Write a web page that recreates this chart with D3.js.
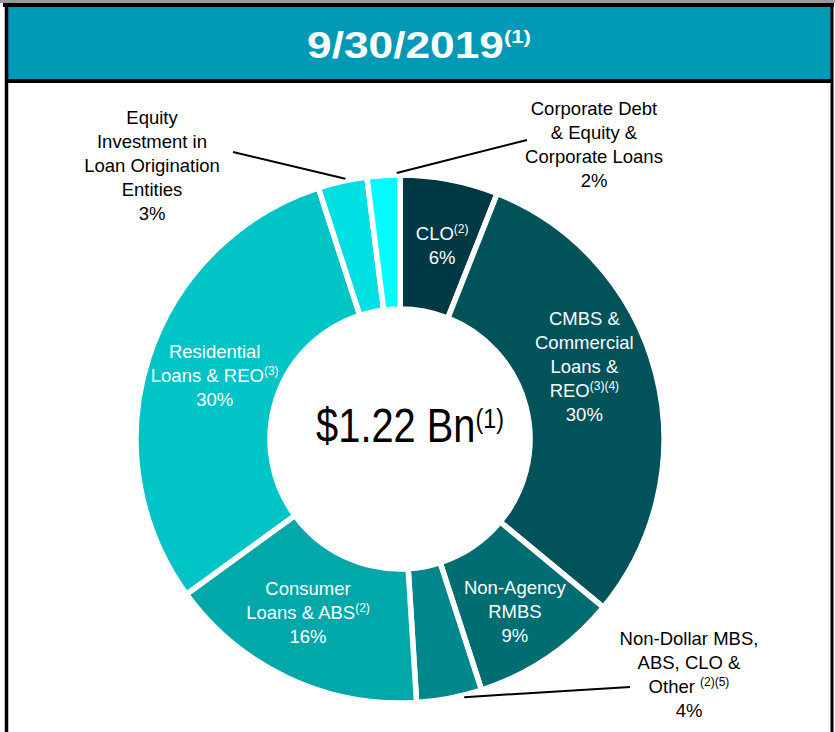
<!DOCTYPE html>
<html>
<head>
<meta charset="utf-8">
<script src="https://cdn.jsdelivr.net/npm/d3@7"></script>
<style>
  html, body { margin: 0; padding: 0; background: #fff; }
  svg { display: block; }
  text { font-family: "Liberation Sans", Arial, sans-serif; }
</style>
</head>
<body>
<svg id="chart" width="835" height="732"></svg>
<script>
// ---------------- DATA ----------------
const title = "9/30/2019";
const titleNote = "(1)";
const totalLabel = "$1.22 Bn";
const totalNote = "(1)";

const categories = [
  "CLO",
  "CMBS & Commercial Loans & REO",
  "Non-Agency RMBS",
  "Non-Dollar MBS, ABS, CLO & Other",
  "Consumer Loans & ABS",
  "Residential Loans & REO",
  "Equity Investment in Loan Origination Entities",
  "Corporate Debt & Equity & Corporate Loans"
];
const values = [6, 30, 9, 4, 16, 30, 3, 2];
const percentLabels = ["6%", "30%", "9%", "4%", "16%", "30%", "3%", "2%"];
// label lines; "^" separates a footnote superscript
const labelLines = [
  ["CLO^(2)"],
  ["CMBS  &", "Commercial", "Loans &", "REO^(3)(4)"],
  ["Non-Agency", "RMBS"],
  ["Non-Dollar MBS,", "ABS, CLO &", "Other ^(2)(5)"],
  ["Consumer", "Loans & ABS^(2)"],
  ["Residential", "Loans & REO^(3)"],
  ["Equity", "Investment  in", "Loan Origination", "Entities"],
  ["Corporate Debt", "& Equity &", "Corporate Loans"]
];
const outsideLabel = [false, false, false, true, false, false, true, true];

// ---------------- STYLE / LAYOUT ----------------
const palette = ["#003843", "#02525A", "#006D72", "#00878C", "#00A8AA", "#00C4C6", "#00E0E3", "#00FCFF"];
const W = 835, H = 732;
const cx = 400, cy = 439;
const rOuter = 264, rInner = 130;
const labelFont = 18.5, lineH = 24;

// inside label placement: [angle offset (deg) from segment middle, radius]
const insideLayout = {0: [1.5, 198], 1: [-7, 198], 2: [0.5, 207], 4: [2.8, 196], 5: [1, 196]};
// outside label placement: [anchor dx, first baseline dy, leader fraction in segment, leader end dx, leader end dy]
const outsideLayout = {
  3: [289, 206, 0.28, 230, 248],
  6: [-248, -315, 0.57, -167, -287],
  7: [194, -324, 0.9, 127, -299]
};

const svg = d3.select("#chart");

// frame + title bar
svg.append("rect").attr("x", 0).attr("y", 0).attr("width", W).attr("height", 3).attr("fill", "#9a9a9a");
svg.append("rect").attr("x", 5).attr("y", 5).attr("width", 827).attr("height", 76)
  .attr("fill", "#0099B6");
svg.append("line").attr("x1", 3).attr("x2", 834).attr("y1", 5).attr("y2", 5).attr("stroke", "#000").attr("stroke-width", 4);
svg.append("line").attr("x1", 5).attr("x2", 832).attr("y1", 81).attr("y2", 81).attr("stroke", "#000").attr("stroke-width", 4);
svg.append("line").attr("x1", 6.5).attr("x2", 6.5).attr("y1", 3).attr("y2", H).attr("stroke", "#000").attr("stroke-width", 3.5);
svg.append("line").attr("x1", 832).attr("x2", 832).attr("y1", 3).attr("y2", H).attr("stroke", "#000").attr("stroke-width", 3);

const tg = svg.append("g").attr("transform", "translate(419,58) scale(1.23,1)");
const tt = tg.append("text").attr("text-anchor", "middle").attr("fill", "#fff")
  .attr("font-weight", "bold").attr("font-size", 36);
tt.append("tspan").text(title);
tt.append("tspan").attr("font-size", 18).attr("dy", -15).text(titleNote);

// donut
const color = d3.scaleOrdinal().domain(categories).range(palette);
const pie = d3.pie().sort(null).value(d => d.value);
const data = categories.map((c, i) => ({name: c, value: values[i], i}));
const arcs = pie(data);
const arc = d3.arc().innerRadius(rInner).outerRadius(rOuter);

const g = svg.append("g").attr("transform", `translate(${cx},${cy})`);
g.selectAll("path.seg").data(arcs).join("path")
  .attr("class", "seg")
  .attr("d", arc)
  .attr("fill", d => color(d.data.name))
  .attr("stroke", "#fff")
  .attr("stroke-width", 5.5)
  .attr("stroke-linejoin", "miter");

function writeLines(textSel, lines, pct, x, y0) {
  const all = lines.concat([pct]);
  all.forEach((ln, k) => {
    const parts = ln.split("^");
    textSel.append("tspan").attr("x", x).attr("y", y0 + k * lineH).text(parts[0]);
    if (parts[1]) {
      textSel.append("tspan").attr("font-size", 12).attr("dy", -7).text(parts[1]);
    }
  });
}

arcs.forEach(d => {
  const i = d.data.i;
  const lines = labelLines[i];
  const n = lines.length + 1;
  if (!outsideLabel[i]) {
    const [da, r] = insideLayout[i];
    const a = (d.startAngle + d.endAngle) / 2 + da * Math.PI / 180;
    const px = Math.sin(a) * r, py = -Math.cos(a) * r;
    const y0 = py - (n - 1) * lineH / 2 + 6.5;
    const t = g.append("text").attr("text-anchor", "middle").attr("fill", "#fff")
      .attr("font-size", labelFont);
    writeLines(t, lines, percentLabels[i], px, y0);
  } else {
    const [ax, ay, frac, ex, ey] = outsideLayout[i];
    const t = g.append("text").attr("text-anchor", "middle").attr("fill", "#000")
      .attr("font-size", labelFont);
    writeLines(t, lines, percentLabels[i], ax, ay);
    const a = d.startAngle + (d.endAngle - d.startAngle) * frac;
    const sx = Math.sin(a) * (rOuter + 2), sy = -Math.cos(a) * (rOuter + 2);
    g.append("line").attr("x1", sx).attr("y1", sy).attr("x2", ex).attr("y2", ey)
      .attr("stroke", "#000").attr("stroke-width", 2);
  }
});

// centre total
const cg = svg.append("g").attr("transform", `translate(${cx + 10},${cy + 3}) scale(0.83,1)`);
const ct = cg.append("text").attr("text-anchor", "middle").attr("fill", "#000").attr("font-size", 48);
ct.append("tspan").text(totalLabel);
ct.append("tspan").attr("font-size", 28).attr("dy", -14).text(totalNote);
</script>
</body>
</html>
